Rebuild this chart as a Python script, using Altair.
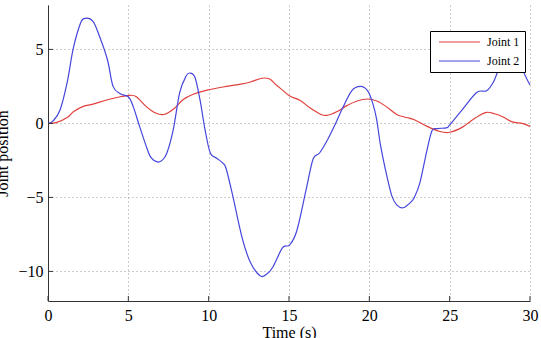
import altair as alt
import pandas as pd

# ---- data ----
series_names = ["Joint 1", "Joint 2"]
series_colors = ["#e0403c", "#4646dc"]

t_joint1 = [0, 0.5, 1.2, 1.6, 2.2, 2.8, 3.7, 4.5, 5.1, 5.5, 6.1, 6.7, 7.2, 7.8, 8.4,
            9.0, 9.9, 11.1, 12.0, 12.6, 13.3, 13.8, 14.2, 14.6, 15.05, 15.7, 16.3, 17.0,
            17.4, 18.0, 18.6, 19.2, 19.9, 20.5, 21.1, 21.7, 22.3, 22.8, 23.6, 24.4, 25.0,
            25.8, 26.3, 26.8, 27.3, 27.8, 28.3, 28.9, 29.5, 30.0]
v_joint1 = [0, 0.05, 0.4, 0.8, 1.15, 1.3, 1.6, 1.8, 1.9, 1.8, 1.15, 0.7, 0.6, 0.95, 1.6,
            1.95, 2.25, 2.5, 2.65, 2.8, 3.05, 3.0, 2.6, 2.25, 1.85, 1.55, 1.05, 0.6,
            0.55, 0.8, 1.2, 1.5, 1.65, 1.5, 1.1, 0.6, 0.4, 0.25, -0.2, -0.55, -0.6,
            -0.25, 0.15, 0.5, 0.75, 0.65, 0.45, 0.1, 0.0, -0.2]

t_joint2 = [0, 0.3, 0.75, 1.2, 1.56, 2.0, 2.3, 2.8, 3.2, 3.7, 4.05, 4.5, 5.0, 5.3, 5.7,
            6.1, 6.4, 6.8, 7.1, 7.4, 7.8, 8.2, 8.6, 8.85, 9.15, 9.46, 9.77, 10.1, 10.5,
            10.9, 11.1, 11.5, 12.1, 12.6, 13.2, 13.6, 14.0, 14.6, 15.05, 15.5, 16.1, 16.5,
            16.9, 17.4, 17.9, 18.3, 18.9, 19.45, 19.9, 20.2, 20.45, 20.7, 21.1, 21.4, 21.7,
            22.1, 22.5, 22.8, 23.15, 23.6, 23.9, 24.2, 24.8, 25.0, 25.8, 26.7, 27.3, 27.7,
            28.0, 28.5, 28.9, 29.3, 29.6, 30.0]
v_joint2 = [0, 0.15, 0.9, 2.8, 5.0, 6.7, 7.1, 6.9, 5.9, 4.3, 2.5, 2.0, 1.8, 1.15, -0.2,
            -1.5, -2.3, -2.6, -2.5, -2.0, -0.4, 2.1, 3.2, 3.4, 3.1, 1.6, -0.4, -2.0, -2.35,
            -2.7, -3.1, -4.9, -7.8, -9.4, -10.3, -10.2, -9.7, -8.4, -8.2, -7.2, -4.3, -2.4,
            -2.0, -1.1, 0.0, 0.95, 2.2, 2.5, 2.2, 1.4, 0.3, -1.5, -3.6, -4.9, -5.5,
            -5.7, -5.4, -5.0, -4.0, -1.75, -0.5, -0.35, -0.3, -0.1, 0.95, 2.1, 2.2, 2.75,
            3.5, 4.6, 5.0, 4.7, 3.5, 2.6]

x_ticks = [0, 5, 10, 15, 20, 25, 30]
y_ticks = [-10, -5, 0, 5]
x_domain = [0, 30]
y_domain = [-12, 8]

# ---- build tables ----
df = pd.concat([
    pd.DataFrame({"t": t_joint1, "v": v_joint1, "series": series_names[0]}),
    pd.DataFrame({"t": t_joint2, "v": v_joint2, "series": series_names[1]}),
], ignore_index=True)
xt = pd.DataFrame({"x": x_ticks})
yt = pd.DataFrame({"y": y_ticks})

W, H = 482, 296
FONT = "Liberation Serif"

xscale = alt.Scale(domain=x_domain, nice=False, zero=False)
yscale = alt.Scale(domain=y_domain, nice=False, zero=False)

lines = alt.Chart(df).mark_line(strokeWidth=1.2, interpolate="cardinal").encode(
    x=alt.X("t:Q", scale=xscale,
            axis=alt.Axis(values=x_ticks, title="Time (s)", grid=True,
                          titleX=W / 2, titleY=36, titleAlign="center",
                          titleBaseline="alphabetic", labelPadding=6,
                          labelFlush=False)),
    y=alt.Y("v:Q", scale=yscale,
            axis=alt.Axis(values=y_ticks, title="Joint position", grid=True,
                          titleX=-40.5, titleY=H / 2, titleAngle=270,
                          titleAlign="center", titleBaseline="alphabetic",
                          labelPadding=5, labelFlush=False)),
    color=alt.Color("series:N",
                    scale=alt.Scale(domain=series_names, range=series_colors),
                    legend=alt.Legend(title=None, orient="none", legendX=382, legendY=26,
                                      symbolType="stroke", symbolSize=1681,
                                      symbolStrokeWidth=1.2, labelFont=FONT,
                                      labelFontSize=12, labelColor="black",
                                      symbolOffset=3, labelOffset=6,
                                      rowPadding=7, padding=5,
                                      clipHeight=12,
                                      strokeColor="black", fillColor="white",
                                      cornerRadius=0)),
    detail="series:N",
)

xticks_layer = alt.Chart(xt).mark_rule(color="#333333", strokeWidth=1).encode(
    x=alt.X("x:Q", scale=xscale),
    y=alt.value(H), y2=alt.value(H - 5),
)
yticks_layer = alt.Chart(yt).mark_rule(color="#333333", strokeWidth=1).encode(
    y=alt.Y("y:Q", scale=yscale),
    x=alt.value(0), x2=alt.value(5),
)

chart = alt.layer(lines, xticks_layer, yticks_layer).properties(
    width=W, height=H,
    autosize=alt.AutoSizeParams(type="none"),
    padding={"left": 48, "top": 5, "right": 11, "bottom": 37},
    background="white",
).configure_view(stroke=None).configure_axis(
    labelFont=FONT, labelFontSize=16, labelColor="black",
    titleFont=FONT, titleFontSize=16, titleFontWeight="normal", titleColor="black",
    domainColor="#333333", domainWidth=1, tickSize=0,
    gridColor="#9a9a9a", gridDash=[1, 3], gridWidth=1, gridOpacity=1,
)

chart.save("out.html", embed_options={"renderer": "svg", "actions": False})
